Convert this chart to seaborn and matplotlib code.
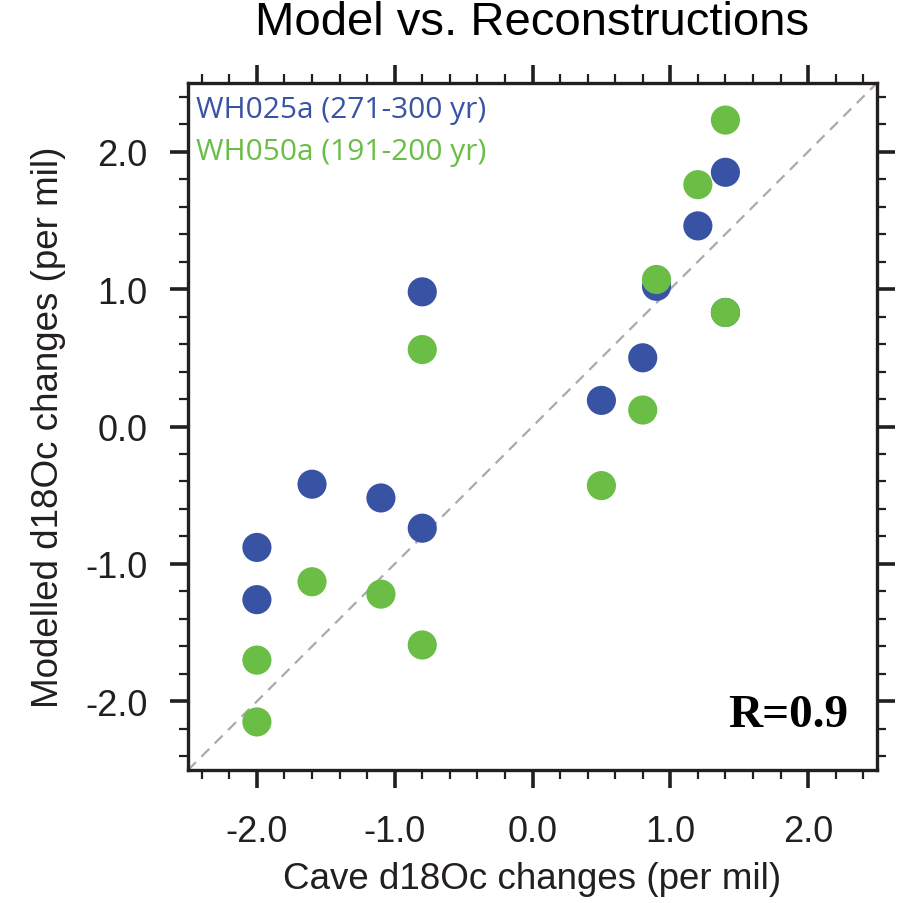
import numpy as np
import pandas as pd
import matplotlib
matplotlib.use("Agg")
import matplotlib.pyplot as plt
import seaborn as sns
from matplotlib.ticker import MultipleLocator

# cave reconstruction values (x) and model values (y) for each run
cave_wh025a = [-2.0, -2.0, -1.6, -1.1, -0.8, -0.8, 0.5, 0.8, 0.9, 1.2, 1.4, 1.4]
model_wh025a = [-0.88, -1.26, -0.42, -0.52, -0.74, 0.98, 0.19, 0.50, 1.02, 1.46, 1.85, 0.83]
cave_wh050a = [-2.0, -2.0, -1.6, -1.1, -0.8, -0.8, 0.5, 0.8, 0.9, 1.2, 1.4, 1.4]
model_wh050a = [-1.70, -2.15, -1.13, -1.22, -1.59, 0.56, -0.43, 0.12, 1.07, 1.76, 2.23, 0.83]
runs = ["WH025a (271-300 yr)", "WH050a (191-200 yr)"]
run_colors = ["#3953a4", "#6abd45"]
tick_vals = [-2.0, -1.0, 0.0, 1.0, 2.0]

df = pd.DataFrame({
    "cave": cave_wh025a + cave_wh050a,
    "model": model_wh025a + model_wh050a,
    "run": [runs[0]] * len(cave_wh025a) + [runs[1]] * len(cave_wh050a),
})

sns.set_style("white")
plt.rcParams["font.family"] = ["Liberation Sans", "DejaVu Sans"]

fig = plt.figure(figsize=(8.97, 9.04), dpi=100)
ax = fig.add_axes([0.2096, 0.1471, 0.7681, 0.76])

ax.plot([-2.5, 2.5], [-2.5, 2.5], ls=(0, (5, 3.5)), color="#aaaaaa", lw=1.6, zorder=1)
sns.scatterplot(data=df, x="cave", y="model", hue="run", palette=run_colors,
                s=440, edgecolor="none", legend=False, ax=ax, zorder=3)

ax.set_xlim(-2.5, 2.5)
ax.set_ylim(-2.5, 2.5)
ax.set_xticks(tick_vals)
ax.set_yticks(tick_vals)
ax.set_xticklabels([f"{v:.1f}" for v in tick_vals])
ax.set_yticklabels([f"{v:.1f}" for v in tick_vals])
ax.xaxis.set_minor_locator(MultipleLocator(0.2))
ax.yaxis.set_minor_locator(MultipleLocator(0.2))
ax.tick_params(which="major", direction="out", length=13, width=2.6, labelsize=26,
               left=True, bottom=True, top=True, right=True, pad=16,
               color="#231f20", labelcolor="#231f20")
ax.tick_params(which="major", axis="x", pad=19)
ax.tick_params(which="minor", direction="out", length=6.5, width=1.6,
               left=True, bottom=True, top=True, right=True, color="#231f20")
for sp in ax.spines.values():
    sp.set_linewidth(2.4)
    sp.set_color("#231f20")

ax.set_xlabel("Cave d18Oc changes (per mil)", fontsize=26.5, labelpad=8, color="#231f20")
ax.set_ylabel("Modelled d18Oc changes (per mil)", fontsize=26.5, labelpad=14, color="#231f20")
ax.set_title("Model vs. Reconstructions", fontsize=34, pad=35, color="black")

ax.text(0.012, 0.983, runs[0], transform=ax.transAxes, color=run_colors[0],
        fontsize=21.5, family="Open Sans", va="top", ha="left")
ax.text(0.012, 0.921, runs[1], transform=ax.transAxes, color=run_colors[1],
        fontsize=21.5, family="Open Sans", va="top", ha="left")
ax.text(0.958, 0.08, "R=0.9", transform=ax.transAxes, fontsize=34, color="black",
        family="Liberation Serif", fontweight="bold", ha="right", va="center")

fig.savefig("out.png", dpi=100)
